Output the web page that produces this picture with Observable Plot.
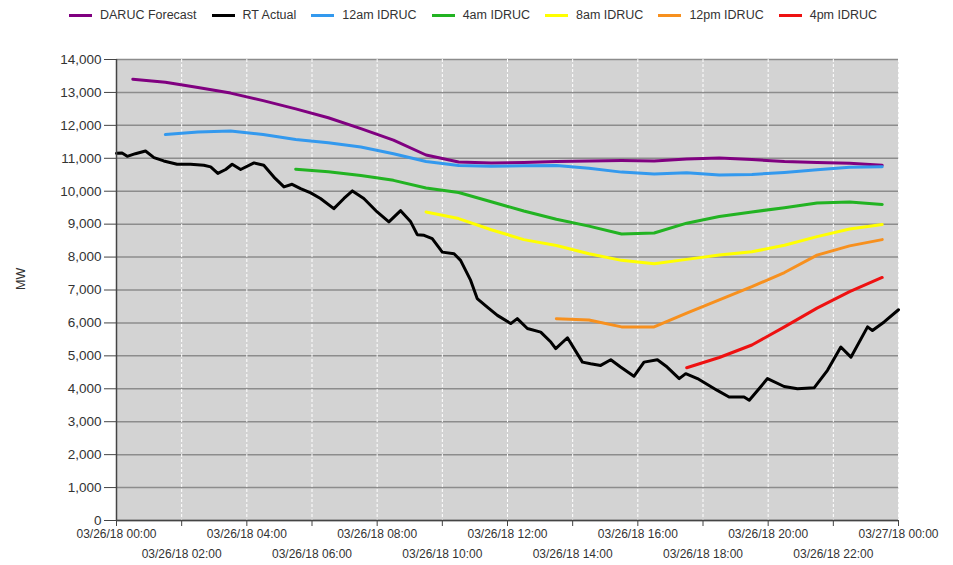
<!DOCTYPE html>
<html><head><meta charset="utf-8">
<script src="https://cdn.jsdelivr.net/npm/d3@7"></script>
<script src="https://cdn.jsdelivr.net/npm/@observablehq/plot@0.6"></script>
<style>
body{margin:0;background:#fff;font-family:"Liberation Sans",Arial,sans-serif;}
#legend{height:30px;width:953px;display:flex;align-items:center;gap:15px;padding-left:69px;box-sizing:border-box;}
.item{font-size:12.5px;color:#333;display:flex;align-items:center;white-space:nowrap;}
.sw{display:inline-block;width:23px;height:3px;margin-right:8px;}
</style></head><body>
<div id="legend"></div><div id="chart"></div>
<script>
// ---- data ----
const seriesNames = ["DARUC Forecast","RT Actual","12am IDRUC","4am IDRUC","8am IDRUC","12pm IDRUC","4pm IDRUC"];
const seriesColors = ["#800080","#000000","#3399ee","#22b322","#ffff00","#f7901e","#ee1111"];

// hours after 03/26/18 00:00
const darucHours = [0.5,1.5,2.5,3.5,4.5,5.5,6.5,7.5,8.5,9.5,10.5,11.5,12.5,13.5,14.5,15.5,16.5,17.5,18.5,19.5,20.5,21.5,22.5,23.5];
const darucMW    = [13400,13310,13150,12980,12750,12500,12230,11900,11550,11100,10890,10860,10870,10900,10920,10930,10920,10980,11010,10960,10900,10870,10850,10790];

const rtHours = [0,0.17,0.33,0.58,0.89,1.15,1.45,1.86,2.27,2.68,2.89,3.11,3.35,3.55,3.81,4.22,4.52,4.83,5.14,5.39,5.65,5.96,6.26,6.67,6.98,7.24,7.59,8.0,8.36,8.72,9.03,9.23,9.44,9.69,10.0,10.36,10.56,10.87,11.07,11.38,11.69,12.1,12.3,12.61,13.02,13.33,13.48,13.84,14.3,14.55,14.86,15.17,15.47,15.88,16.19,16.6,16.9,17.27,17.47,17.83,18.44,18.8,19.26,19.42,19.72,19.98,20.49,20.9,21.41,21.82,22.23,22.54,23.05,23.2,23.56,24.0];
const rtMW    = [11150,11160,11060,11140,11220,11020,10920,10820,10820,10790,10740,10540,10660,10820,10660,10860,10790,10430,10130,10210,10080,9950,9780,9470,9780,10010,9780,9370,9070,9410,9070,8680,8660,8560,8150,8100,7900,7290,6740,6480,6230,5980,6130,5830,5720,5420,5220,5550,4810,4760,4710,4880,4660,4380,4810,4880,4660,4310,4460,4310,3950,3750,3750,3650,4000,4310,4070,4000,4030,4560,5270,4960,5880,5770,6030,6400];

const idruc12amHours = [1.5,2.5,3.5,4.5,5.5,6.5,7.5,8.5,9.5,10.5,11.5,12.5,13.5,14.5,15.5,16.5,17.5,18.5,19.5,20.5,21.5,22.5,23.5];
const idruc12amMW    = [11720,11800,11830,11720,11570,11470,11340,11140,10900,10780,10760,10770,10780,10700,10580,10520,10560,10490,10510,10570,10650,10730,10740];

const idruc4amHours = [5.5,6.5,7.5,8.5,9.5,10.5,11.5,12.5,13.5,14.5,15.5,16.5,17.5,18.5,19.5,20.5,21.5,22.5,23.5];
const idruc4amMW    = [10670,10590,10480,10330,10100,9960,9680,9400,9150,8940,8700,8730,9030,9230,9370,9500,9640,9670,9600];

const idruc8amHours = [9.5,10.5,11.5,12.5,13.5,14.5,15.5,16.5,17.5,18.5,19.5,20.5,21.5,22.5,23.5];
const idruc8amMW    = [9370,9170,8830,8530,8350,8100,7900,7800,7930,8060,8160,8360,8620,8850,8990];

const idruc12pmHours = [13.5,14.5,15.5,16.5,17.5,18.5,19.5,20.5,21.5,22.5,23.5];
const idruc12pmMW    = [6130,6090,5880,5880,6300,6700,7100,7530,8060,8340,8530];

const idruc4pmHours = [17.5,18.5,19.5,20.5,21.5,22.5,23.5];
const idruc4pmMW    = [4640,4950,5330,5880,6450,6950,7380];

const yTicks = [0,1000,2000,3000,4000,5000,6000,7000,8000,9000,10000,11000,12000,13000,14000];
const xTickHours = [0,2,4,6,8,10,12,14,16,18,20,22,24];

// ---- build ----
const base = Date.UTC(2018, 2, 26);
const toDate = h => new Date(base + h * 3600e3);
const rows = [];
function add(name, hours, values){ hours.forEach((h,i) => rows.push({series:name, time:toDate(h), mw:values[i]})); }
add(seriesNames[0], darucHours, darucMW);
add(seriesNames[1], rtHours, rtMW);
add(seriesNames[2], idruc12amHours, idruc12amMW);
add(seriesNames[3], idruc4amHours, idruc4amMW);
add(seriesNames[4], idruc8amHours, idruc8amMW);
add(seriesNames[5], idruc12pmHours, idruc12pmMW);
add(seriesNames[6], idruc4pmHours, idruc4pmMW);

const legend = document.getElementById("legend");
seriesNames.forEach((n,i) => {
  const it = document.createElement("div"); it.className = "item";
  const sw = document.createElement("span"); sw.className = "sw"; sw.style.background = seriesColors[i];
  it.appendChild(sw); it.appendChild(document.createTextNode(n)); legend.appendChild(it);
});

const fmt = d3.utcFormat("%m/%d/%y %H:%M");
const row1 = xTickHours.filter((h,i) => i % 2 === 0).map(toDate);
const row2 = xTickHours.filter((h,i) => i % 2 === 1).map(toDate);

const chart = Plot.plot({
  width: 953, height: 535,
  marginTop: 29, marginBottom: 45, marginLeft: 116, marginRight: 55,
  style: {fontFamily: '"Liberation Sans", Arial, sans-serif', fontSize: "12px", color: "#333", background: "transparent", overflow: "visible"},
  x: {type: "utc", domain: [toDate(0), toDate(24)]},
  y: {domain: [0, 14000]},
  color: {domain: seriesNames, range: seriesColors},
  marks: [
    Plot.frame({fill: "#d3d3d3", stroke: null}),
    Plot.gridY(yTicks, {stroke: "#8c8c8c", strokeOpacity: 1, strokeWidth: 1.5}),
    Plot.gridX(xTickHours.map(toDate), {stroke: "#ffffff", strokeOpacity: 1, strokeDasharray: "3,2"}),
    Plot.line(rows, {x: "time", y: "mw", z: "series", stroke: "series", strokeWidth: 3, curve: "linear"}),
    Plot.axisY(yTicks, {tickSize: 12, tickPadding: 3, tickFormat: d3.format(","), fontSize: 13.5, label: null, stroke: "#444"}),
    Plot.axisX(row1, {tickSize: 6, tickPadding: 3, tickFormat: fmt, label: null, stroke: "#444"}),
    Plot.axisX(row2, {tickSize: 6, tickPadding: 23, tickFormat: fmt, label: null, stroke: "#444"}),
    Plot.ruleX([toDate(0)], {stroke: "#444", strokeWidth: 1.5}),
    Plot.ruleY([0], {stroke: "#444", strokeWidth: 1.5}),
    Plot.text(["MW"], {frameAnchor: "left", dx: -96, rotate: -90, fontSize: 12.5, fill: "#333"})
  ]
});
document.getElementById("chart").appendChild(chart);
</script>
</body></html>
